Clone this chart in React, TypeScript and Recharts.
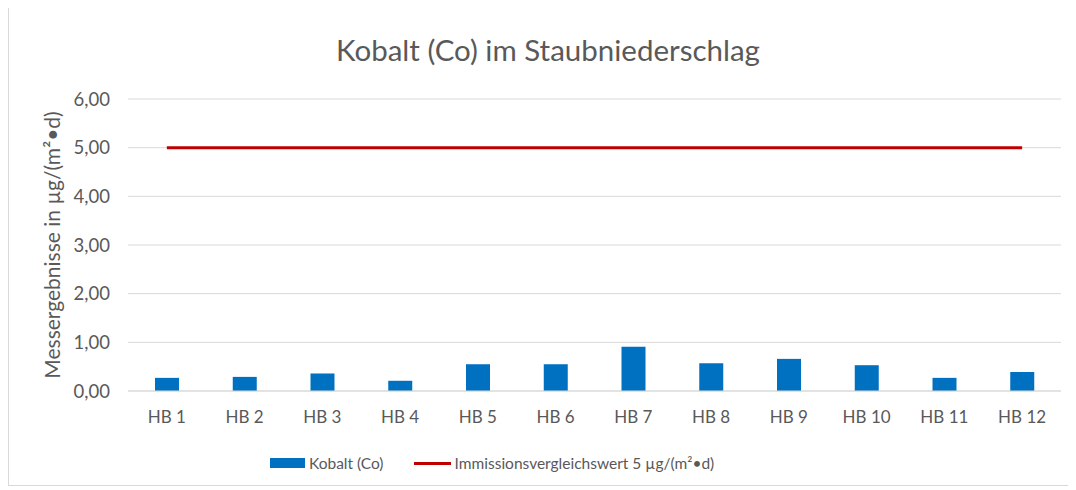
import { Bar, CartesianGrid, ComposedChart, Line, XAxis, YAxis } from 'recharts';

const stations = ['HB 1', 'HB 2', 'HB 3', 'HB 4', 'HB 5', 'HB 6', 'HB 7', 'HB 8', 'HB 9', 'HB 10', 'HB 11', 'HB 12'];
const kobalt = [0.27, 0.29, 0.36, 0.21, 0.55, 0.55, 0.91, 0.57, 0.66, 0.53, 0.27, 0.39];
const vergleichswert = [5, 5, 5, 5, 5, 5, 5, 5, 5, 5, 5, 5];
const yTicks = [0, 1, 2, 3, 4, 5, 6];

const BLUE = '#0070C0';
const RED = '#C00000';
const GREY = '#595959';
const FONT = 'Lato, "Open Sans", sans-serif';

const data = stations.map((name, i) => ({
  name,
  kobalt: kobalt[i],
  grenzwert: vergleichswert[i],
}));

const fmt = (v: number) => v.toFixed(2).replace('.', ',');

export default function App() {
  return (
    <div
      style={{
        position: 'relative',
        marginTop: -8,
        width: 1062,
        height: 486,
        boxSizing: 'border-box',
        borderLeft: '1px solid #d9d9d9',
        borderRight: '1px solid #d9d9d9',
        borderBottom: '1px solid #d9d9d9',
        fontFamily: FONT,
        background: '#fff',
      }}
    >
      <div
        style={{
          position: 'absolute',
          left: 0,
          width: 1060,
          top: 30,
          textAlign: 'center',
          fontSize: 29.5,
          lineHeight: '40px',
          color: GREY,
          paddingLeft: 18,
          boxSizing: 'border-box',
        }}
      >
        Kobalt (Co) im Staubniederschlag
      </div>
      <ComposedChart
        width={1060}
        height={485}
        data={data}
        margin={{ top: 99, right: 8, bottom: 64, left: 0 }}
        barSize={24}
        style={{ position: 'absolute', left: 0, top: 0 }}
      >
        <CartesianGrid vertical={false} stroke="#d9d9d9" />
        <XAxis
          dataKey="name"
          height={30}
          axisLine={{ stroke: '#d9d9d9' }}
          tickLine={false}
          tickMargin={14}
          tick={{ fill: GREY, fontSize: 17, fontFamily: FONT }}
          interval={0}
        />
        <YAxis
          width={119}
          domain={[0, 6]}
          ticks={yTicks}
          tickFormatter={fmt}
          axisLine={false}
          tickLine={false}
          tickMargin={12}
          tick={{ fill: GREY, fontSize: 18.5, fontFamily: FONT }}
          label={{
            value: 'Messergebnisse in µg/(m²•d)',
            angle: -90,
            position: 'insideLeft',
            offset: 44,
            style: { textAnchor: 'middle', fill: GREY, fontSize: 21, fontFamily: FONT },
          }}
        />
        <Bar dataKey="kobalt" fill={BLUE} isAnimationActive={false} />
        <Line
          dataKey="grenzwert"
          type="linear"
          stroke={RED}
          strokeWidth={3}
          dot={false}
          activeDot={false}
          isAnimationActive={false}
        />
      </ComposedChart>
      <div
        style={{
          position: 'absolute',
          top: 453,
          left: 261,
          display: 'flex',
          alignItems: 'center',
          fontSize: 15.5,
          color: GREY,
          height: 20,
        }}
      >
        <span style={{ display: 'inline-block', width: 35, height: 10, background: BLUE, marginRight: 4 }} />
        <span>Kobalt (Co)</span>
        <span
          style={{ display: 'inline-block', width: 37, height: 3, background: RED, marginLeft: 30, marginRight: 4 }}
        />
        <span>Immissionsvergleichswert 5 µg/(m²•d)</span>
      </div>
    </div>
  );
}
